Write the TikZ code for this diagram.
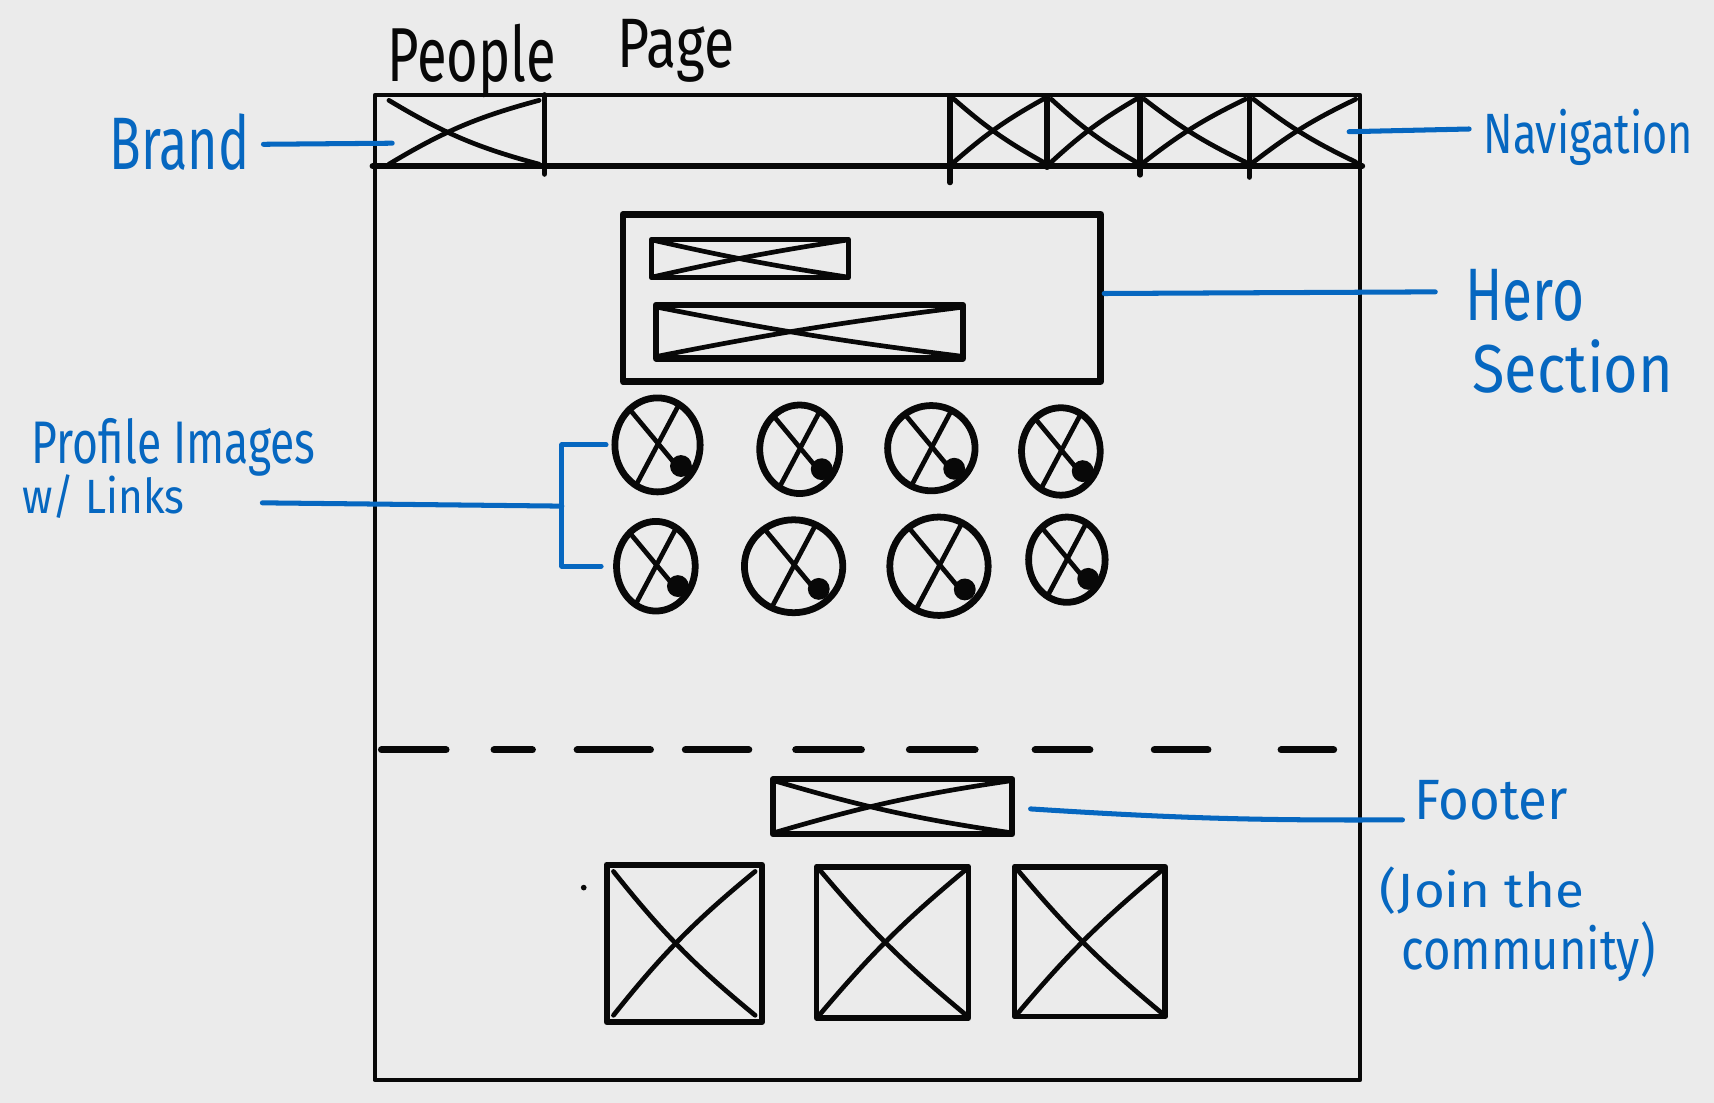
\documentclass[tikz,border=0pt]{standalone}
\usepackage{fontspec}
\usepackage{graphicx}
\setmainfont{Fira Sans}
\usetikzlibrary{calc,shapes.geometric}
\definecolor{paper}{RGB}{235,235,235}
\definecolor{ink}{RGB}{8,8,8}
\definecolor{pen}{RGB}{6,103,192}
% size, horizontal squeeze, text
\newcommand\hand[3]{\fontsize{#1}{#1}\selectfont\scalebox{#2}[1]{#3}}
\begin{document}
\begin{tikzpicture}[x=1pt,y=-1pt,
  sketch/.style={draw=ink, line width=5pt, line cap=round, line join=round},
  frame/.style={sketch, rectangle, inner sep=0pt},
  ghost/.style={rectangle, inner sep=0pt},
  xline/.style={draw=ink, line width=4.3pt, line cap=round},
  avatar/.style={sketch, ellipse, inner sep=0pt, line width=6.2pt},
  note/.style={text=pen, inner sep=0pt, anchor=base west},
  title/.style={text=ink, inner sep=0pt, anchor=base west},
  conn/.style={draw=pen, line width=4.6pt, line cap=round, line join=round},
  dashbar/.style={draw=ink, line width=6.5pt, line cap=round},
]
\useasboundingbox[fill=paper] (0,0) rectangle (1568,1009);

% page outline and header rule
\node[frame, line width=4.3pt, minimum width=901, minimum height=901] (page) at (793.5,537.5) {};
\draw[sketch, line width=5.5pt] (page.north west |- 0,152) -- (page.north east |- 0,152);

% brand slot
\node[ghost, minimum width=147, minimum height=68] (brand) at (424.5,121) {};
\draw[sketch, line width=5pt] (brand.north east) -- ([yshift=-4pt]brand.south east);

% navigation slots
\node[ghost, minimum width=375, minimum height=65] (nav) at (1056.5,119.5) {};
\foreach \nm/\cx/\w in {nav1/913.5/89, nav2/1000.5/85, nav3/1093/100, nav4/1193.5/101}
  \node[ghost, minimum width=\w, minimum height=65] (\nm) at (\cx,119.5) {};
\draw[sketch] (869,89) -- (869,167);
\draw[sketch] (958,89) -- (958,153);
\draw[sketch] (1043,89) -- (1043,160);
\draw[sketch] (1143,89) -- (1143,162);

% hero block
\node[frame, line width=6.2pt, minimum width=437, minimum height=153] (hero) at (788.5,272.5) {};
\node[frame, line width=5pt, minimum width=180, minimum height=35] (heroa) at (686,236.5) {};
\node[frame, line width=5.6pt, minimum width=281, minimum height=49] (herob) at (740.5,303.5) {};

% footer call-out and tiles
\node[frame, line width=5.6pt, minimum width=219, minimum height=50] (footbar) at (816.5,738) {};
\node[frame, line width=5.6pt, minimum width=142, minimum height=144] (fbox1) at (626,863) {};
\node[frame, line width=5.2pt, minimum width=139, minimum height=138] (fbox2) at (816.5,862) {};
\node[frame, line width=5.2pt, minimum width=138, minimum height=137] (fbox3) at (997,861.5) {};
\fill[ink] (534,812) circle (2.6);

% placeholder crosses
\foreach \nm/\d/\b in {brand/5/8, nav1/4/6, nav2/4/6, nav3/4/6, nav4/4/6, heroa/3/2,
                       herob/5/2, footbar/4/4, fbox1/9/6, fbox2/6/5, fbox3/6/5} {
  \draw[xline] ($(\nm.north west)+(\d,\d)$) to[bend right=\b] ($(\nm.south east)+(-\d,-\d)$);
  \draw[xline] ($(\nm.south west)+(\d,-\d)$) to[bend left=\b] ($(\nm.north east)+(-\d,\d)$);
}

% profile avatars
\foreach \nm/\cx/\cy/\rx/\ry in {p1/601.5/407/39/43, p2/731.5/411/36.5/40.5, p3/852/410/40/39,
    p4/970.5/413/36/40, p5/600/518/36/41, p6/726/518/45/42.5, p7/859/518/45/45, p8/976/512/35/39} {
  \node[avatar, minimum width=2*\rx, minimum height=2*\ry] (\nm) at (\cx,\cy) {};
  \draw[xline] ($(\nm.center)!0.9!(\nm.128)$) -- ($(\nm.center)!0.72!(\nm.-48)$);
  \draw[xline] ($(\nm.center)!0.9!(\nm.62)$) -- ($(\nm.center)!0.9!(\nm.-118)$);
  \fill[ink] ($(\nm.center)!0.66!(\nm.-42)$) circle (10);
}

% section divider
\foreach \a/\b in {349/408, 452/487, 528/595, 627/685, 728/788, 832/892, 947/997, 1056/1105, 1172/1220}
  \draw[dashbar] (\a,686) -- (\b,686);

% page title
\node[title] (ttl1) at (354,75) {\hand{70}{0.71}{People}};
\node[title] (ttl2) at (565,62) {\hand{64}{0.79}{Page}};

% annotations
\node[note] (brandlbl) at (100,155) {\hand{68}{0.7}{Brand}};
\node[note] (navlbl) at (1357,140) {\hand{52}{0.76}{Navigation}};
\node[note] (herolbl) at (1340,293) {\hand{68}{0.74}{Hero}};
\node[note] (seclbl) at (1347,359) {\hand{62}{0.875}{Section}};
\node[note] (proflbl1) at (29,424) {\hand{55}{0.74}{Profile Images}};
\node[note] (proflbl2) at (20,470) {\hand{44}{0.88}{w/ Links}};
\node[note] (footlbl) at (1294,750) {\hand{52}{0.93}{Footer}};
\node[note] (joinlbl) at (1262,830) {\hand{44}{1.1}{(Join the}};
\node[note] (commlbl) at (1282,887) {\hand{52}{0.83}{community)}};

% leader lines
\draw[conn] ([shift={(141,-23)}]brandlbl.base west) -- ([shift={(8,10)}]brand.west);
\draw[conn] ([shift={(-10,1)}]nav.east) -- ([shift={(-13,-22)}]navlbl.base west);
\draw[conn] ([shift={(0,-4)}]hero.east) -- ([shift={(-27,-26)}]herolbl.base west);
\coordinate (brk) at (514,463);
\draw[conn] ([xshift=-5pt]p1.west) -- (p1.west -| brk) -- (p5.west -| brk) -- ([xshift=-11pt]p5.west);
\draw[conn] ([shift={(220,-10)}]proflbl2.base west) -- (brk);
\draw[conn] ([shift={(14,2)}]footbar.east) to[bend right=2] ([shift={(-11,0)}]footlbl.base west);
\end{tikzpicture}
\end{document}
